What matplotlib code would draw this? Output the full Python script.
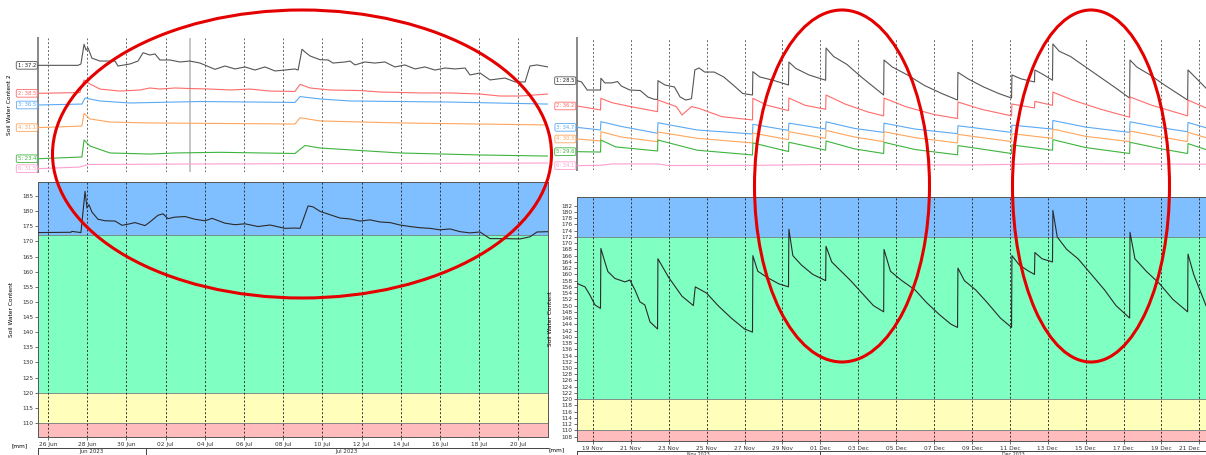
import pandas as pd
import matplotlib
matplotlib.use('Agg')
import matplotlib.pyplot as plt
import matplotlib.dates as mdates
import matplotlib.transforms as mtransforms
from matplotlib.patches import Ellipse

W, H = 1206, 455

# ==============================
# Data: left period (days since 26 Jun 2023)
# ==============================
L_BASE  = pd.Timestamp('2023-06-26')
L_RANGE = (-0.51, 25.51)
L_TICKS = pd.date_range('2023-06-26', '2023-07-20', freq='2D')
L_MONTHS = [('2023-06-01', 'Jun 2023'), ('2023-07-01', 'Jul 2023')]

# summed soil water content [mm]
l_swc = [(-0.51, 172.9), (1.17, 173.0), (1.22, 173.3), (1.68, 172.9), (1.89, 186.5), (1.99, 181.0),
         (2.09, 182.1), (2.24, 179.7), (2.55, 177.3), (2.91, 176.8), (3.42, 176.7), (3.78, 175.3),
         (4.18, 175.8), (4.44, 176.2), (4.69, 175.7), (4.95, 175.2), (5.20, 176.4), (5.61, 178.6),
         (5.87, 179.1), (6.12, 177.5), (6.48, 178.0), (6.99, 178.2), (7.50, 177.3), (8.01, 176.8),
         (8.37, 177.6), (9.03, 176.0), (9.54, 175.5), (10.05, 175.8), (10.71, 174.9), (11.33, 175.4),
         (12.09, 174.3), (12.60, 174.4), (12.86, 174.3), (13.01, 177.0), (13.27, 181.7), (13.52, 181.4),
         (13.88, 179.9), (14.39, 178.8), (14.90, 177.7), (15.41, 177.4), (15.92, 176.7), (16.43, 177.1),
         (16.94, 176.4), (17.45, 176.2), (17.96, 175.4), (18.47, 174.9), (18.98, 174.5), (19.49, 174.3),
         (20.00, 173.8), (20.51, 174.1), (21.02, 173.2), (21.53, 172.8), (22.04, 173.1), (22.55, 170.9),
         (23.32, 170.9), (24.08, 170.8), (24.59, 171.5), (24.95, 173.1), (25.51, 173.2)]

# individual sensors (relative display scale 0-100)
l_s1 = [(-0.51, 79.6), (1.53, 79.6), (1.68, 80.6), (1.84, 95.3), (1.94, 91.0), (2.04, 92.5), (2.24, 85.0),
        (2.65, 82.8), (3.42, 82.8), (3.57, 79.1), (4.18, 80.6), (4.59, 82.8), (4.85, 89.0), (5.20, 87.3),
        (5.46, 88.1), (5.71, 83.6), (6.22, 83.6), (6.73, 82.1), (7.24, 82.8), (7.76, 81.3), (8.52, 76.6),
        (9.03, 79.1), (9.54, 76.9), (10.05, 78.4), (10.56, 76.1), (11.07, 78.4), (11.58, 75.4),
        (12.09, 76.1), (12.60, 76.9), (12.76, 76.1), (12.96, 91.6), (13.11, 89.6), (13.37, 86.6),
        (13.88, 83.8), (14.29, 83.6), (14.54, 81.3), (15.15, 82.1), (15.41, 82.8), (15.66, 79.9),
        (16.17, 82.1), (16.68, 81.3), (17.19, 82.1), (17.70, 78.4), (18.21, 79.9), (18.72, 76.9),
        (19.23, 78.4), (19.74, 76.1), (20.26, 77.6), (20.77, 76.9), (21.28, 77.6), (21.53, 72.4),
        (22.04, 73.9), (22.55, 68.7), (23.32, 70.1), (23.83, 67.2), (24.34, 67.2), (24.59, 79.1),
        (24.95, 79.9), (25.51, 78.4)]
l_s2 = [(-0.51, 58.7), (1.63, 59.3), (1.84, 68.7), (2.14, 65.7), (2.65, 61.9), (3.67, 60.4), (4.69, 61.2),
        (5.20, 62.7), (5.71, 61.9), (6.48, 62.7), (7.24, 62.3), (8.27, 61.9), (9.29, 61.2), (10.31, 61.9),
        (11.33, 60.4), (12.60, 60.1), (12.86, 65.4), (13.37, 62.7), (14.39, 61.2), (15.92, 60.8),
        (16.94, 59.7), (18.98, 59.0), (20.51, 59.0), (22.04, 58.2), (23.06, 56.7), (24.08, 56.7), (25.51, 58.2)]
l_s3 = [(-0.51, 50.0), (1.73, 50.7), (1.89, 55.2), (2.65, 53.0), (4.18, 51.5), (7.76, 52.6), (12.60, 51.9),
        (12.86, 56.3), (13.88, 54.5), (15.41, 53.0), (20.51, 52.2), (25.51, 50.7)]
l_s4 = [(-0.51, 33.1), (1.73, 34.3), (1.84, 43.8), (2.14, 39.6), (3.16, 37.3), (5.20, 36.6), (12.60, 35.8),
        (12.86, 40.5), (13.88, 38.1), (17.96, 36.6), (25.51, 35.1)]
l_s5 = [(-0.51, 9.9), (1.73, 11.2), (1.84, 23.9), (2.14, 19.4), (3.16, 14.2), (5.20, 13.4), (6.48, 14.2),
        (8.78, 14.7), (12.60, 13.8), (13.11, 19.8), (13.88, 17.9), (17.96, 14.2), (22.04, 12.7), (25.51, 11.9)]
l_s6 = [(-0.51, 2.5), (1.63, 3.7), (2.04, 5.6), (7.76, 6.0), (25.51, 6.7)]
l_labels = ['1: 37.2', '2: 38.5', '3: 36.5', '4: 31.1', '5: 23.4', '6: 31.5']

# ==============================
# Data: right period (days since 19 Nov 2023)
# ==============================
R_BASE  = pd.Timestamp('2023-11-19')
R_RANGE = (-0.84, 32.35)
R_TICKS = pd.date_range('2023-11-19', '2023-12-21', freq='2D')
R_MONTHS = [('2023-11-01', 'Nov 2023'), ('2023-12-01', 'Dec 2023')]

r_swc = [(-0.84, 157.1), (-0.42, 156.0), (-0.16, 153.4), (0.11, 150.2), (0.40, 149.1), (0.42, 168.3),
         (0.63, 164.0), (0.79, 160.9), (1.16, 158.7), (1.69, 157.6), (1.95, 158.2), (2.22, 155.0),
         (2.48, 151.2), (2.74, 150.2), (3.01, 144.8), (3.41, 142.5), (3.43, 165.0), (4.00, 159.0),
         (4.70, 153.0), (5.30, 150.0), (5.40, 156.0), (6.00, 154.0), (6.60, 150.0), (7.30, 146.0),
         (8.00, 142.5), (8.42, 141.5), (8.44, 166.0), (8.70, 161.0), (9.20, 159.0), (9.80, 157.0),
         (10.32, 156.0), (10.34, 174.5), (10.55, 166.0), (11.00, 163.0), (11.60, 160.0), (12.28, 158.0),
         (12.30, 169.0), (12.60, 164.0), (13.10, 161.0), (13.60, 158.0), (14.20, 154.0), (14.80, 150.0),
         (15.34, 148.0), (15.36, 168.0), (15.70, 161.0), (16.30, 158.0), (17.00, 155.0), (17.60, 151.0),
         (18.30, 147.0), (18.90, 144.0), (19.24, 143.0), (19.26, 162.0), (19.60, 158.0), (20.20, 155.0),
         (20.80, 151.0), (21.50, 146.0), (22.09, 143.0), (22.11, 166.0), (22.50, 163.0), (23.00, 161.0),
         (23.30, 160.0), (23.32, 167.0), (23.70, 165.0), (24.25, 164.0), (24.27, 180.5), (24.50, 172.0),
         (25.00, 168.0), (25.60, 165.0), (26.30, 160.0), (27.00, 155.0), (27.60, 150.0), (28.32, 146.0),
         (28.34, 173.5), (28.60, 165.0), (29.20, 161.0), (29.90, 157.0), (30.60, 152.0), (31.38, 148.0),
         (31.40, 166.5), (31.70, 160.0), (32.35, 150.0)]

r_s1 = [(-0.84, 67.7), (-0.60, 66.7), (-0.30, 60.6), (0.40, 60.6), (0.42, 69.5), (0.63, 66.0), (1.00, 66.0),
        (1.30, 67.0), (1.50, 63.6), (1.95, 60.6), (2.50, 60.2), (2.90, 55.3), (3.20, 53.7), (3.41, 53.4),
        (3.43, 67.7), (3.80, 64.4), (4.30, 62.9), (4.60, 55.3), (4.90, 53.0), (5.20, 54.0), (5.38, 75.8),
        (5.60, 77.3), (5.90, 74.2), (6.40, 74.2), (6.90, 70.5), (7.40, 64.4), (7.90, 58.0), (8.42, 56.8),
        (8.44, 74.5), (8.80, 70.5), (9.50, 68.0), (10.32, 64.4), (10.34, 81.8), (10.70, 77.0), (11.40, 72.0),
        (12.28, 68.0), (12.30, 92.4), (12.70, 86.0), (13.40, 80.0), (14.20, 70.0), (15.34, 56.8),
        (15.36, 83.3), (15.80, 78.0), (16.60, 72.0), (17.50, 64.0), (18.40, 58.0), (19.24, 53.0),
        (19.26, 74.0), (19.80, 69.0), (20.60, 63.0), (21.40, 58.0), (22.09, 54.5), (22.11, 72.0),
        (22.60, 69.0), (23.30, 66.7), (23.32, 75.8), (23.80, 72.0), (24.25, 68.0), (24.27, 95.5),
        (24.60, 90.0), (25.20, 86.0), (26.00, 78.0), (26.80, 70.0), (27.60, 62.0), (28.32, 54.5),
        (28.34, 83.3), (28.70, 78.0), (29.40, 72.0), (30.20, 64.0), (31.38, 53.0), (31.40, 75.8),
        (31.80, 70.0), (32.35, 62.0)]
r_s2 = [(-0.84, 48.5), (0.40, 45.5), (0.42, 54.3), (1.00, 51.0), (2.00, 48.0), (3.41, 44.2), (3.43, 53.0),
        (4.40, 48.0), (4.70, 41.7), (5.20, 48.0), (5.60, 46.7), (6.80, 40.4), (8.42, 37.9), (8.44, 54.3),
        (9.20, 49.0), (10.32, 45.0), (10.34, 54.5), (11.20, 49.0), (12.28, 46.0), (12.30, 56.8),
        (13.30, 50.0), (14.50, 44.0), (15.34, 41.0), (15.36, 54.5), (16.50, 48.0), (18.00, 42.0),
        (19.24, 39.0), (19.26, 51.5), (20.50, 46.0), (22.09, 41.0), (22.11, 50.0), (23.30, 47.0),
        (23.32, 52.0), (24.25, 49.0), (24.27, 59.0), (25.30, 53.0), (26.80, 46.0), (28.32, 40.0),
        (28.34, 55.3), (29.50, 49.0), (31.38, 41.0), (31.40, 53.0), (32.35, 47.0)]
r_s3 = [(-0.84, 32.3), (0.40, 30.3), (0.42, 36.6), (1.50, 33.0), (3.41, 27.8), (3.43, 35.8), (5.50, 30.3),
        (8.42, 27.3), (8.44, 34.6), (10.32, 30.0), (10.34, 35.5), (12.28, 31.0), (12.30, 36.5),
        (13.80, 31.5), (15.34, 28.5), (15.36, 35.5), (17.00, 31.0), (19.24, 27.5), (19.26, 33.5),
        (22.09, 28.5), (22.11, 34.0), (24.25, 31.0), (24.27, 37.5), (26.00, 32.5), (28.32, 28.5),
        (28.34, 36.5), (30.00, 32.0), (31.38, 29.0), (31.40, 36.0), (32.35, 32.0)]
r_s4 = [(-0.84, 23.5), (0.40, 22.0), (0.42, 29.0), (1.50, 25.0), (3.41, 21.4), (3.43, 28.8), (5.50, 24.0),
        (8.42, 20.5), (8.44, 28.0), (10.32, 23.0), (10.34, 29.0), (12.28, 24.0), (12.30, 30.0),
        (13.80, 25.0), (15.34, 21.5), (15.36, 29.0), (17.00, 24.5), (19.24, 20.5), (19.26, 27.0),
        (22.09, 21.5), (22.11, 27.5), (24.25, 24.0), (24.27, 31.0), (26.00, 25.5), (28.32, 21.5),
        (28.34, 29.5), (30.00, 25.0), (31.38, 21.5), (31.40, 28.5), (32.35, 24.5)]
r_s5 = [(-0.84, 13.9), (0.40, 13.6), (0.42, 22.7), (1.20, 17.5), (3.41, 14.4), (3.43, 22.7), (5.50, 15.0),
        (8.42, 11.4), (8.44, 20.5), (10.32, 14.0), (10.34, 21.0), (12.28, 15.0), (12.30, 22.0),
        (13.80, 16.0), (15.34, 12.5), (15.36, 21.0), (17.00, 15.5), (19.24, 11.5), (19.26, 18.5),
        (22.09, 12.5), (22.11, 19.0), (24.25, 15.0), (24.27, 23.0), (26.00, 17.0), (28.32, 12.5),
        (28.34, 21.0), (30.00, 16.0), (31.38, 12.5), (31.40, 20.0), (32.35, 15.5)]
r_s6 = [(-0.84, 3.3), (0.42, 3.6), (1.00, 4.6), (3.40, 4.6), (4.00, 3.4), (8.40, 3.5), (12.30, 4.2),
        (20.00, 3.8), (24.30, 4.8), (32.35, 4.4)]
r_labels = ['1: 28.5', '2: 36.2', '3: 34.7', '4: 30.3', '5: 29.6', '6: 34.1']

SENSOR_COLORS = ['#555555', '#ff6b6b', '#5aa9f5', '#ffa55c', '#3db43d', '#ff9fd0']

# soil water zones [mm]
ZONES = [(0, 110, '#ffbcbc'), (110, 120, '#ffffbb'), (120, 172, '#80ffc2'), (172, 200, '#80bfff')]

# highlighted areas (pixel centre x, y, width, height)
HIGHLIGHTS = [(302, 154, 499, 288), (842, 186, 175, 352), (1091, 186, 157, 352)]


def to_dates(base, pts):
    days, vals = zip(*pts)
    return base + pd.to_timedelta(list(days), unit='D'), list(vals)


def px_axes(fig, x0, y0, x1, y1):
    return fig.add_axes([x0 / W, 1 - y1 / H, (x1 - x0) / W, (y1 - y0) / H])


def setup_top(ax, base, rng, ticks, sensors, labels, top_ylim=(0, 100)):
    ax.set_xlim(base + pd.Timedelta(days=rng[0]), base + pd.Timedelta(days=rng[1]))
    ax.set_ylim(*top_ylim)
    for t in ticks:
        ax.axvline(t, color='#666666', lw=0.7, ls=(0, (2, 2)), zorder=1)
    trans = mtransforms.blended_transform_factory(ax.transAxes, ax.transData)
    for pts, col, lab in zip(sensors, SENSOR_COLORS, labels):
        x, y = to_dates(base, pts)
        ax.plot(x, y, color=col, lw=0.8, zorder=3)
        ax.text(-0.004, y[0], lab, transform=trans, ha='right', va='center', fontsize=3.8,
                color=col if col != '#555555' else '#222222',
                bbox=dict(boxstyle='round,pad=0.25', fc='white', ec=col, lw=0.6), clip_on=False)
    ax.set_xticks([]); ax.set_yticks([])
    for s in ['top', 'right', 'bottom']:
        ax.spines[s].set_visible(False)
    ax.spines['left'].set_color('#888888')
    ax.spines['left'].set_linewidth(1.4)


def setup_bottom(ax, base, rng, ticks, swc, ylim, yticks, months, month_y, month_fs=4.0):
    x0, x1 = base + pd.Timedelta(days=rng[0]), base + pd.Timedelta(days=rng[1])
    ax.set_xlim(x0, x1)
    ax.set_ylim(*ylim)
    for lo, hi, col in ZONES:
        ax.axhspan(lo, hi, color=col, lw=0, zorder=0)
        ax.axhline(hi, color='#6f7f7f', lw=0.6, zorder=1)
    for t in ticks:
        ax.axvline(t, color='#333333', lw=0.7, ls=(0, (2, 2)), zorder=2)
    x, y = to_dates(base, swc)
    ax.plot(x, y, color='#2a2a2a', lw=0.8, zorder=3)
    ax.set_yticks(yticks)
    ax.set_xticks(ticks)
    ax.xaxis.set_major_formatter(mdates.DateFormatter('%d %b'))
    ax.tick_params(labelsize=4.2, length=2, width=0.5, pad=1.5, colors='#333333')
    for s in ax.spines.values():
        s.set_color('#555555'); s.set_linewidth(0.7)
    ax.set_ylabel('Soil Water Content', fontsize=4.2, labelpad=6)
    ax.text(-0.02, -0.025, '[mm]', transform=ax.transAxes, ha='right', va='top', fontsize=4.2)
    # month row below the date labels
    trans = mtransforms.blended_transform_factory(ax.transData, ax.transAxes)
    ax.plot([x0, x1], [month_y, month_y], transform=trans, color='#444444', lw=0.7, clip_on=False)
    ax.plot([x0, x0], [month_y, month_y - 0.1], transform=trans, color='#444444', lw=0.7, clip_on=False)
    bounds = [pd.Timestamp(m) for m, _ in months]
    for i, (m, lab) in enumerate(months):
        a = max(bounds[i], x0)
        b = bounds[i + 1] if i + 1 < len(bounds) else x1
        if i > 0:
            ax.plot([a, a], [month_y, month_y - 0.1], transform=trans, color='#444444', lw=0.7, clip_on=False)
        ax.text(a + (b - a) / 2, month_y - 0.005, lab, transform=trans, ha='center', va='top',
                fontsize=month_fs, color='#333333', clip_on=False)


fig = plt.figure(figsize=(W / 100, H / 100), dpi=100)

# ---- left period ----
ax_lt = px_axes(fig, 38, 38, 548, 172)
setup_top(ax_lt, L_BASE, L_RANGE, L_TICKS, [l_s1, l_s2, l_s3, l_s4, l_s5, l_s6], l_labels)
ax_lt.axvline(L_BASE + pd.Timedelta(days=7.24), color='#bbbbbb', lw=1.2, zorder=2)
ax_lt.set_ylabel('Soil Water Content 2', fontsize=4.2, labelpad=19)

ax_lb = px_axes(fig, 38, 182, 548, 437)
setup_bottom(ax_lb, L_BASE, L_RANGE, L_TICKS, l_swc, (105.4, 189.6), list(range(110, 186, 5)),
             L_MONTHS, -0.043)

# ---- right period ----
ax_rt = px_axes(fig, 577, 38, 1206, 170)
setup_top(ax_rt, R_BASE, R_RANGE, R_TICKS, [r_s1, r_s2, r_s3, r_s4, r_s5, r_s6], r_labels)

ax_rb = px_axes(fig, 577, 197, 1206, 441)
setup_bottom(ax_rb, R_BASE, R_RANGE, R_TICKS, r_swc, (106.6, 184.8), list(range(108, 183, 2)),
             R_MONTHS, -0.040, month_fs=3.4)
# keep the last date label inside the figure
ax_rb.get_xticklabels()[-1].set_horizontalalignment('right')

# ---- highlight ellipses ----
ov = fig.add_axes([0, 0, 1, 1], zorder=10)
ov.set_xlim(0, W); ov.set_ylim(H, 0)
ov.axis('off')
for cx, cy, w, h in HIGHLIGHTS:
    ov.add_patch(Ellipse((cx, cy), w, h, fill=False, ec='#e50000', lw=2.2))

fig.savefig('out.png', dpi=100)
plt.close()
